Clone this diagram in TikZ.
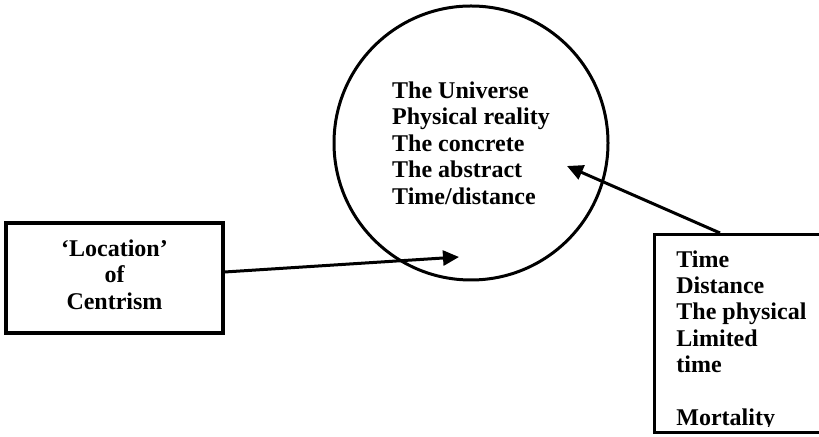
\documentclass[tikz,border=0pt]{standalone}
\usepackage{fontspec}
\setmainfont{Liberation Serif}
\usetikzlibrary{positioning, calc, arrows.meta}
\tikzstyle{arrow}=[line width=1.5pt, draw=black, -{Triangle[length=8pt, width=7.5pt]}]
\tikzstyle{box}=[rectangle, draw, line width=1.6pt, fill=white, align=center, inner sep=0pt]
\tikzstyle{world}=[circle, draw, line width=1.5pt, minimum size=137pt, align=left, inner sep=0pt]
\tikzstyle{words}=[font=\bfseries\fontsize{12}{13.2}\selectfont]

\begin{document}
\begin{tikzpicture}[x=0.5pt, y=-0.5pt, words]
        \useasboundingbox (0,0) rectangle (819,437);
        % the circle
        \node[world] (universe) at (471,143) {The Universe\\Physical reality\\The concrete\\The abstract\\Time/distance};

        % left box
        \node[box, minimum width=108.5pt, minimum height=55pt] (location box) at (114.5,278) {};
        \node[align=center, inner sep=0pt] (location text) at (114.5,274.5) {‘Location’\\of\\Centrism};

        % right box, runs off the page
        \node[box, anchor=north west, minimum width=95pt, minimum height=99pt] (time box) at (653,233) {};
        \begin{scope}
            \clip (time box.north west) rectangle ($(time box.south east)+(0,-8)$);
            \node[anchor=north west, align=left, inner sep=0pt] (time list) at (676,250) {Time\\Distance\\The physical\\Limited\\time\\[13.2pt]Mortality};
        \end{scope}

        % arrows
        \coordinate (location tip) at (459,257);
        \coordinate (universe tip) at (567,166);
        \draw[arrow] ([yshift=3pt]location box.east) -- (location tip);
        \draw[arrow] ([xshift=33.5pt]time box.north west) -- (universe tip);
    \end{tikzpicture}
\end{document}
